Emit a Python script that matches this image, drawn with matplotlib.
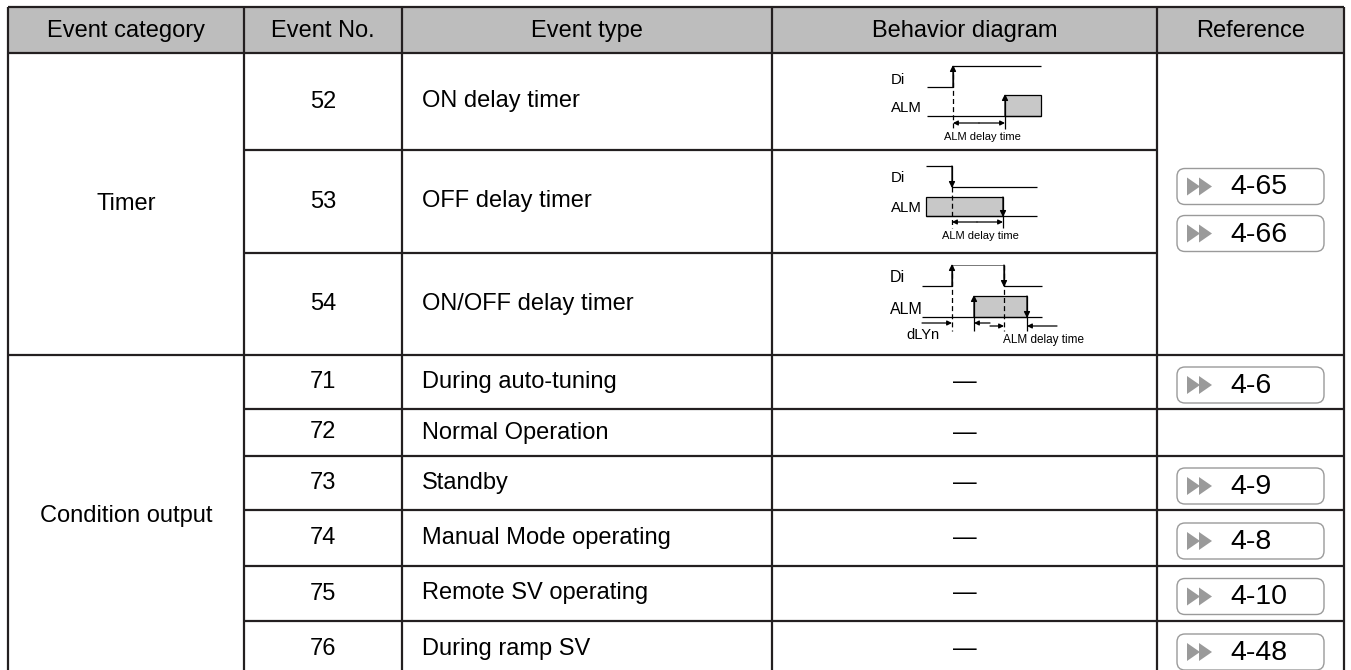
import matplotlib
matplotlib.use("Agg")
import matplotlib.pyplot as plt
from matplotlib.patches import Rectangle, FancyBboxPatch, Polygon

plt.rcParams["font.family"] = ["Liberation Sans", "DejaVu Sans"]

# ── Table content ─────────────────────────────────────────────────────────────
headers = ["Event category", "Event No.", "Event type", "Behavior diagram", "Reference"]
categories = ["Timer", "Condition output"]
category_rows = [3, 6]
event_nos = ["52", "53", "54", "71", "72", "73", "74", "75", "76"]
event_types = ["ON delay timer", "OFF delay timer", "ON/OFF delay timer",
               "During auto-tuning", "Normal Operation", "Standby",
               "Manual Mode operating", "Remote SV operating", "During ramp SV"]
timer_refs = ["4-65", "4-66"]
condition_refs = ["4-6", "", "4-9", "4-8", "4-10", "4-48"]

# ── Layout (pixels) ───────────────────────────────────────────────────────────
W, H = 1351, 670
col_x = [8, 244, 402, 772, 1157, 1344]
row_y = [7, 53, 150, 253, 355, 409, 456, 510, 566, 621, 677]
LINE = "#231f20"
LW = 1.6
FS = 17
HEADER_BG = "#bdbdbd"
BADGE_EDGE = "#9a9a9a"

fig = plt.figure(figsize=(W / 100, H / 100), dpi=100)
ax = fig.add_axes([0, 0, 1, 1])
ax.set_xlim(0, W)
ax.set_ylim(H, 0)
ax.axis("off")


def hline(y, x0, x1, **kw):
    ax.plot([x0, x1], [y, y], color=LINE, lw=kw.get("lw", LW),
            solid_capstyle="butt", zorder=3)


def vline(x, y0, y1, **kw):
    ax.plot([x, x], [y0, y1], color=LINE, lw=kw.get("lw", LW),
            solid_capstyle="butt", zorder=3)


# header
ax.add_patch(Rectangle((col_x[0], row_y[0]), col_x[-1] - col_x[0],
                       row_y[1] - row_y[0], facecolor=HEADER_BG, edgecolor="none"))
for i, h in enumerate(headers):
    ax.text((col_x[i] + col_x[i + 1]) / 2, (row_y[0] + row_y[1]) / 2 + 1, h,
            ha="center", va="center", fontsize=FS, color="black")

# grid lines
hline(row_y[0], col_x[0], col_x[-1])
hline(row_y[1], col_x[0], col_x[-1])
for r in (2, 3):
    hline(row_y[r], col_x[1], col_x[4])
hline(row_y[4], col_x[0], col_x[-1])
for r in range(5, 10):
    hline(row_y[r], col_x[1], col_x[-1])
for x in col_x:
    vline(x, row_y[0], row_y[-1])

# category column
start = 0
for cat, n in zip(categories, category_rows):
    ax.text((col_x[0] + col_x[1]) / 2, (row_y[1 + start] + row_y[1 + start + n]) / 2,
            cat, ha="center", va="center", fontsize=FS)
    start += n

# event no / event type
for i, (no, et) in enumerate(zip(event_nos, event_types)):
    yc = (row_y[i + 1] + row_y[i + 2]) / 2
    ax.text((col_x[1] + col_x[2]) / 2, yc, no, ha="center", va="center", fontsize=FS)
    ax.text(col_x[2] + 20, yc, et, ha="left", va="center", fontsize=FS)
    if i >= 3:
        ax.text((col_x[3] + col_x[4]) / 2, yc, "\u2014", ha="center",
                va="center", fontsize=FS)


# ── Reference badges ──────────────────────────────────────────────────────────
def badge(yc, label):
    bx0, bx1, bh = 1177, 1324, 36
    ax.add_patch(FancyBboxPatch((bx0, yc - bh / 2), bx1 - bx0, bh,
                                boxstyle="round,pad=0,rounding_size=8",
                                facecolor="white", edgecolor=BADGE_EDGE,
                                lw=1.0, zorder=4))
    for dx in (0, 12):
        ax.add_patch(Polygon([(1187 + dx, yc - 9), (1187 + dx, yc + 9),
                              (1200 + dx, yc)], closed=True,
                             facecolor=BADGE_EDGE, edgecolor="none", zorder=5))
    ax.text(1230, yc + 1, label, ha="left", va="center", fontsize=20.5, zorder=5)


timer_mid = (row_y[1] + row_y[4]) / 2 + 6
badge(timer_mid - 23.5, timer_refs[0])
badge(timer_mid + 23.5, timer_refs[1])
for i, ref in enumerate(condition_refs):
    if ref:
        badge((row_y[4 + i] + row_y[5 + i]) / 2 + 3, ref)


# ── Behavior diagrams ─────────────────────────────────────────────────────────
def seg(x0, y0, pts, lw=0.9, color="black", ls="-"):
    xs = [x0 + p[0] for p in pts]
    ys = [y0 + p[1] for p in pts]
    ax.plot(xs, ys, color=color, lw=lw, ls=ls, solid_capstyle="butt", zorder=4)


def arrow(x0, y0, tail, tip, ms=9):
    ax.annotate("", xy=(x0 + tip[0], y0 + tip[1]), xytext=(x0 + tail[0], y0 + tail[1]),
                arrowprops=dict(arrowstyle="-|>", lw=0.9, color="black",
                                mutation_scale=ms, shrinkA=0, shrinkB=0), zorder=5)


def box(x0, y0, xa, xb, ya, yb):
    ax.add_patch(Rectangle((x0 + xa, y0 + ya), xb - xa, yb - ya,
                           facecolor="#c8c8c8", edgecolor="black", lw=0.9, zorder=3))


cx = col_x[3]

# 52: ON delay timer
y0 = row_y[1]
ax.text(cx + 119, y0 + 27, "Di", ha="left", va="center", fontsize=10.8)
ax.text(cx + 119, y0 + 55, "ALM", ha="left", va="center", fontsize=10.8)
seg(cx, y0, [(155, 34), (181, 34), (181, 13), (269, 13)])
arrow(cx, y0, (181, 34), (181, 12))
box(cx, y0, 233, 269, 42, 63)
seg(cx, y0, [(155, 63), (269, 63)])
arrow(cx, y0, (233, 63), (233, 41))
seg(cx, y0, [(181, 13), (181, 76)], lw=0.9, ls=(0, (4, 2.5)))
seg(cx, y0, [(233, 63), (233, 76)])
arrow(cx, y0, (207, 70), (181, 70), ms=7)
arrow(cx, y0, (207, 70), (233, 70), ms=7)
ax.text(cx + 210, y0 + 84, "ALM delay time", ha="center", va="center", fontsize=8)

# 53: OFF delay timer
y0 = row_y[2]
ax.text(cx + 119, y0 + 28, "Di", ha="left", va="center", fontsize=10.8)
ax.text(cx + 119, y0 + 58, "ALM", ha="left", va="center", fontsize=10.8)
seg(cx, y0, [(154, 16), (180, 16), (180, 37), (265, 37)])
arrow(cx, y0, (180, 16), (180, 38))
box(cx, y0, 154, 231, 47, 66)
seg(cx, y0, [(154, 66), (265, 66)])
arrow(cx, y0, (231, 47), (231, 67))
seg(cx, y0, [(180, 37), (180, 78)], ls=(0, (4, 2.5)))
seg(cx, y0, [(231, 66), (231, 78)])
arrow(cx, y0, (205, 72), (180, 72), ms=7)
arrow(cx, y0, (205, 72), (231, 72), ms=7)
ax.text(cx + 208, y0 + 86, "ALM delay time", ha="center", va="center", fontsize=8)

# 54: ON/OFF delay timer
y0 = row_y[3]
ax.text(cx + 118, y0 + 25, "Di", ha="left", va="center", fontsize=11.5)
ax.text(cx + 118, y0 + 56, "ALM", ha="left", va="center", fontsize=11.5)
seg(cx, y0, [(150, 33), (180, 33), (180, 12)])
seg(cx, y0, [(180, 12), (232, 12)], color="#777777", lw=0.7)
seg(cx, y0, [(232, 12), (232, 33), (270, 33)])
arrow(cx, y0, (180, 33), (180, 11))
arrow(cx, y0, (232, 12), (232, 34))
box(cx, y0, 202, 255, 43, 64)
seg(cx, y0, [(150, 64), (270, 64)])
arrow(cx, y0, (202, 64), (202, 42))
arrow(cx, y0, (255, 43), (255, 65))
seg(cx, y0, [(180, 12), (180, 78)], ls=(0, (4, 2.5)))
seg(cx, y0, [(232, 12), (232, 78)], ls=(0, (4, 2.5)))
seg(cx, y0, [(202, 64), (202, 78)])
seg(cx, y0, [(255, 64), (255, 78)])
arrow(cx, y0, (150, 70), (180, 70), ms=7)
arrow(cx, y0, (218, 70), (202, 70), ms=7)
arrow(cx, y0, (218, 73), (232, 73), ms=7)
arrow(cx, y0, (285, 73), (255, 73), ms=7)
ax.text(cx + 134, y0 + 82, "dLYn", ha="left", va="center", fontsize=10.5)
ax.text(cx + 231, y0 + 87, "ALM delay time", ha="left", va="center", fontsize=8.5)

fig.savefig("out.png", dpi=100)
